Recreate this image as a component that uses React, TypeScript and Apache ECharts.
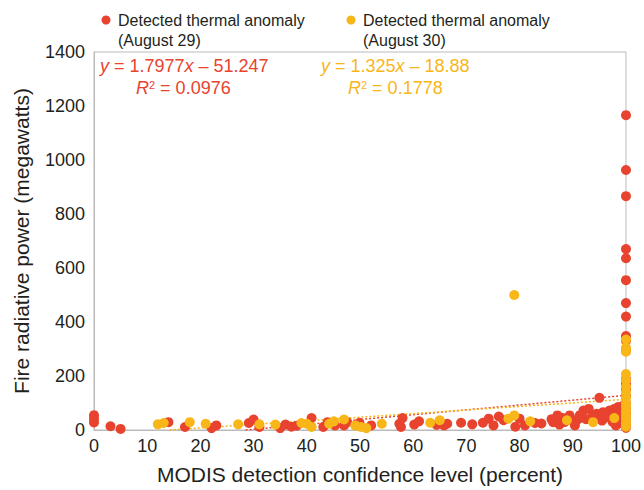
import React, { useEffect, useRef } from "react";
import * as echarts from "echarts";

// MODIS detection confidence (percent) and fire radiative power (MW)
const aug29Conf = [
  0, 0, 0, 3.1, 5, 14, 17.1, 22.1, 23, 29.1, 30, 31.1,
  35, 36, 37.1, 38.1, 40.9, 43.1, 43.9, 45.3, 47, 47.6, 49.9, 52.1,
  57.4, 58, 57.7, 60.2, 61.1, 64.4, 65.8,
  66.4, 69, 71.1, 73.1, 74.2, 75.1, 76.1, 77, 79.2, 80, 81, 82.9, 84.1,
  86.3, 87.1, 89.4, 90.4, 91.3, 92, 93, 94.1, 95, 95.7, 96.9, 97.8, 98.1,
  86, 87.5, 88, 90, 92.5, 94.5, 96, 97, 98.5, 99, 99.2,
  88.5, 91, 93.5, 95.5, 96.5, 97.5, 98.8, 99.5,
  100, 100, 100, 100, 100, 100, 100, 100, 100, 100, 100,
  100, 100, 100, 100, 100, 100, 100, 100, 100, 100,
];
const aug29Frp = [
  55, 42, 28, 14, 4, 29, 11, 7, 17, 26, 39, 11,
  7, 20, 12, 16, 44, 11, 29, 17, 17, 29, 27, 17,
  23, 44, 11, 20, 32, 19, 17,
  23, 27, 21, 27, 42, 17, 50, 36, 12, 42, 17, 26, 24,
  29, 54, 54, 17, 54, 72, 78, 54, 119, 66, 72, 78, 17,
  40, 20, 45, 35, 40, 60, 45, 60, 85, 50, 25,
  30, 40, 45, 35, 55, 30, 65, 90,
  1166, 963, 866, 670, 636, 555, 470, 420, 348, 331, 293,
  189, 170, 150, 125, 100, 80, 60, 40, 20, 8,
];

const aug30Conf = [
  12, 13.1, 18, 21, 27.1, 31.1, 34.1, 39, 40, 40.9, 44.2, 45.1, 47, 49.1,
  50.2, 51.2, 54.1, 63.2, 65, 77.9, 79, 79, 82, 88.9, 93.8, 97.8,
  100, 100, 100, 100, 100, 100, 100, 100, 100, 100, 100, 100, 100, 100, 100,
];
const aug30Frp = [
  21, 26, 29, 23, 21, 21, 20, 26, 23, 11, 23, 32, 39, 17,
  11, 7, 23, 27, 36, 42, 54, 500, 32, 36, 29, 44,
  335, 305, 290, 207, 185, 160, 140, 120, 100, 85, 70, 55, 40, 25, 12,
];

// Regression fits printed on the chart: [slope, intercept]
const fit29 = [1.7977, -51.247];
const fit30 = [1.325, -18.88];

const xTicks = { min: 0, max: 100, interval: 10 };
const yTicks = { min: 0, max: 1400, interval: 200 };

const RED = "#E8432F";
const YELLOW = "#F8B619";
const TEXT = "#231F20";
const FONT = "'Liberation Sans', Arial, Helvetica, sans-serif";

function fitLine(fit: number[]) {
  const [a, b] = fit;
  const x0 = Math.max(0, -b / a);
  return [
    [x0, a * x0 + b],
    [100, a * 100 + b],
  ];
}

export default function App() {
  const ref = useRef<HTMLDivElement>(null);

  useEffect(() => {
    if (!ref.current) return;
    const chart = echarts.init(ref.current, undefined, { renderer: "svg" });

    const eqRich = (color: string) => ({
      i: { fontStyle: "italic", fontSize: 18, fontFamily: FONT, fill: color },
      n: { fontSize: 18, fontFamily: FONT, fill: color },
      sup: { fontSize: 11, fontFamily: FONT, fill: color, verticalAlign: "top" },
    });

    chart.setOption({
      animation: false,
      backgroundColor: "#ffffff",
      grid: {
        left: 94,
        right: 14,
        top: 52,
        bottom: 57,
        show: true,
        borderColor: "#BBBBBB",
        borderWidth: 1,
        containLabel: false,
      },
      xAxis: {
        type: "value",
        min: xTicks.min,
        max: xTicks.max,
        interval: xTicks.interval,
        name: "MODIS detection confidence level (percent)",
        nameLocation: "middle",
        nameGap: 34,
        nameTextStyle: { fontSize: 21, color: TEXT, fontFamily: FONT },
        axisLine: { show: true, lineStyle: { color: "#BBBBBB", width: 1 } },
        axisTick: { show: false },
        splitLine: { show: false },
        axisLabel: { fontSize: 18, color: TEXT, fontFamily: FONT, margin: 7 },
      },
      yAxis: {
        type: "value",
        min: yTicks.min,
        max: yTicks.max,
        interval: yTicks.interval,
        name: "Fire radiative power (megawatts)",
        nameLocation: "middle",
        nameGap: 62,
        nameTextStyle: { fontSize: 21, color: TEXT, fontFamily: FONT },
        axisLine: { show: true, lineStyle: { color: "#BBBBBB", width: 1 } },
        axisTick: { show: false },
        splitLine: { show: false },
        axisLabel: {
          fontSize: 18,
          color: TEXT,
          fontFamily: FONT,
          margin: 9,
          formatter: (v: number) => String(v),
        },
      },
      series: [
        {
          name: "Aug 29 fit",
          type: "line",
          data: fitLine(fit29),
          symbol: "none",
          lineStyle: { color: RED, width: 1.5, type: [2, 2] },
          z: 1,
          silent: true,
        },
        {
          name: "Aug 30 fit",
          type: "line",
          data: fitLine(fit30),
          symbol: "none",
          lineStyle: { color: YELLOW, width: 1.5, type: [2, 2] },
          z: 1,
          silent: true,
        },
        {
          name: "Detected thermal anomaly (August 29)",
          type: "scatter",
          data: aug29Conf.map((c, i) => [c, aug29Frp[i]]),
          symbolSize: 10,
          itemStyle: { color: RED, opacity: 1 },
          z: 2,
        },
        {
          name: "Detected thermal anomaly (August 30)",
          type: "scatter",
          data: aug30Conf.map((c, i) => [c, aug30Frp[i]]),
          symbolSize: 10,
          itemStyle: { color: YELLOW, opacity: 1 },
          z: 3,
        },
      ],
      graphic: [
        { type: "circle", shape: { cx: 106, cy: 20, r: 4.5 }, style: { fill: RED } },
        {
          type: "text",
          x: 118,
          y: 30,
          style: {
            text: "Detected thermal anomaly\n(August 29)",
            fontSize: 16,
            lineHeight: 20,
            fontFamily: FONT,
            fill: TEXT,
            verticalAlign: "middle",
            align: "left",
          },
        },
        { type: "circle", shape: { cx: 351, cy: 20, r: 4.5 }, style: { fill: YELLOW } },
        {
          type: "text",
          x: 363,
          y: 30,
          style: {
            text: "Detected thermal anomaly\n(August 30)",
            fontSize: 16,
            lineHeight: 20,
            fontFamily: FONT,
            fill: TEXT,
            verticalAlign: "middle",
            align: "left",
          },
        },
        {
          type: "text",
          x: 100,
          y: 66,
          style: {
            text: "{i|y}{n| = 1.7977}{i|x}{n| – 51.247}",
            fill: RED,
            fontSize: 18,
            fontFamily: FONT,
            verticalAlign: "middle",
            rich: eqRich(RED),
          },
        },
        {
          type: "text",
          x: 136,
          y: 88,
          style: {
            text: "{i|R}{sup|2}{n| = 0.0976}",
            fill: RED,
            fontSize: 18,
            fontFamily: FONT,
            verticalAlign: "middle",
            rich: eqRich(RED),
          },
        },
        {
          type: "text",
          x: 321,
          y: 66,
          style: {
            text: "{i|y}{n| = 1.325}{i|x}{n| – 18.88}",
            fill: YELLOW,
            fontSize: 18,
            fontFamily: FONT,
            verticalAlign: "middle",
            rich: eqRich(YELLOW),
          },
        },
        {
          type: "text",
          x: 348,
          y: 88,
          style: {
            text: "{i|R}{sup|2}{n| = 0.1778}",
            fill: YELLOW,
            fontSize: 18,
            fontFamily: FONT,
            verticalAlign: "middle",
            rich: eqRich(YELLOW),
          },
        },
      ],
    });

    return () => chart.dispose();
  }, []);

  return (
    <div
      ref={ref}
      style={{ position: "fixed", left: 0, top: 0, width: 644, height: 490 }}
    />
  );
}
